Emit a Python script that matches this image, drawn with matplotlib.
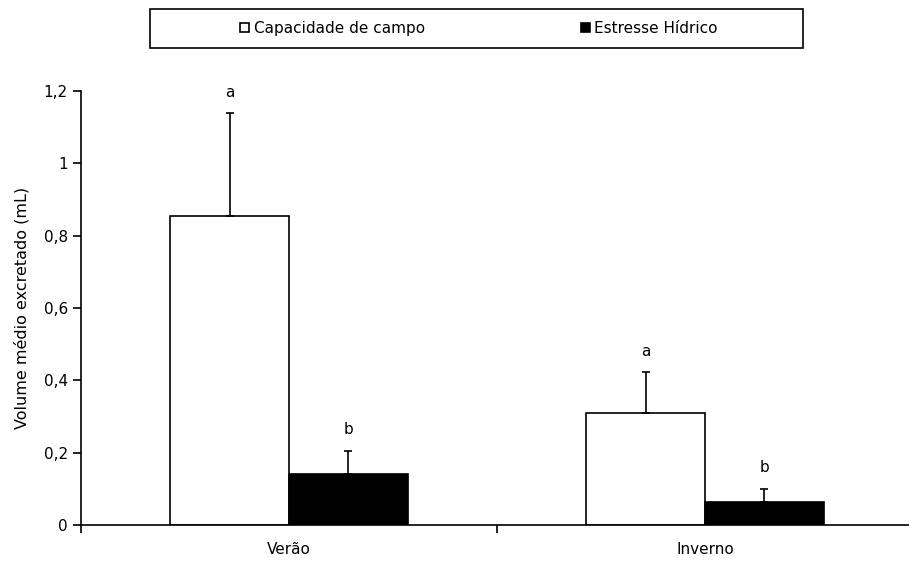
import matplotlib
matplotlib.use("Agg")
import matplotlib.pyplot as plt
from matplotlib.patches import Rectangle
import numpy as np

# Data
seasons = ["Verão", "Inverno"]
series_names = ["Capacidade de campo", "Estresse Hídrico"]
capacidade = [0.855, 0.31]
capacidade_err = [0.283, 0.112]
estresse = [0.14, 0.064]
estresse_err = [0.064, 0.036]
letters_cap = ["a", "a"]
letters_est = ["b", "b"]
yticks = [0, 0.2, 0.4, 0.6, 0.8, 1.0, 1.2]
ytick_labels = ["0", "0,2", "0,4", "0,6", "0,8", "1", "1,2"]

plt.rcParams["font.family"] = ["DejaVu Sans"]
fs = 11

fig = plt.figure(figsize=(9.09, 5.63), dpi=100)
ax = fig.add_axes([81 / 909, 1 - 525 / 563, 832 / 909, (525 - 91) / 563])

centers = np.arange(len(seasons)) + 0.5
w = 0.286

err_kw = dict(ecolor="black", elinewidth=1.2, capsize=3, capthick=1.2)
b1 = ax.bar(centers - w / 2, capacidade, w, color="white", edgecolor="black",
            linewidth=1.2, yerr=[np.zeros(2), capacidade_err], error_kw=err_kw,
            label=series_names[0], zorder=2)
b2 = ax.bar(centers + w / 2, estresse, w, color="black", edgecolor="black",
            linewidth=1.2, yerr=[np.zeros(2), estresse_err], error_kw=err_kw,
            label=series_names[1], zorder=2)

for x, v, e, t in zip(centers - w / 2, capacidade, capacidade_err, letters_cap):
    ax.text(x, v + e + 0.038, t, ha="center", va="bottom", fontsize=fs)
for x, v, e, t in zip(centers + w / 2, estresse, estresse_err, letters_est):
    ax.text(x, v + e + 0.038, t, ha="center", va="bottom", fontsize=fs)

ax.set_xlim(0, 2)
ax.set_ylim(0, 1.2)
ax.set_yticks(yticks)
ax.set_yticklabels(ytick_labels, fontsize=fs)
ax.set_xticks([0, 1, 2])
ax.set_xticklabels([])
ax.set_xticks(centers, minor=True)
ax.set_xticklabels(seasons, minor=True, fontsize=fs)
ax.tick_params(axis="x", which="minor", length=0, pad=12)
ax.tick_params(axis="both", which="major", direction="out", length=6, width=1.2)
ax.spines["top"].set_visible(False)
ax.spines["right"].set_visible(False)
ax.spines["left"].set_linewidth(1.2)
ax.spines["bottom"].set_linewidth(1.2)
ax.set_ylabel("Volume médio excretado (mL)", fontsize=11.5, labelpad=10)

# Legend frame and entries
fig.patches.append(Rectangle((150 / 909, 1 - 48 / 563), 653 / 909, 39 / 563,
                             transform=fig.transFigure, facecolor="white",
                             edgecolor="black", linewidth=1.2))
fig.legend(handles=[b1, b2], labels=series_names, loc="center",
           bbox_to_anchor=(479 / 909, 1 - 28.5 / 563), ncol=2, frameon=False,
           fontsize=fs, handlelength=0.6, handleheight=0.6, handletextpad=0.3,
           columnspacing=10.2)

fig.savefig("out.png", dpi=100)
